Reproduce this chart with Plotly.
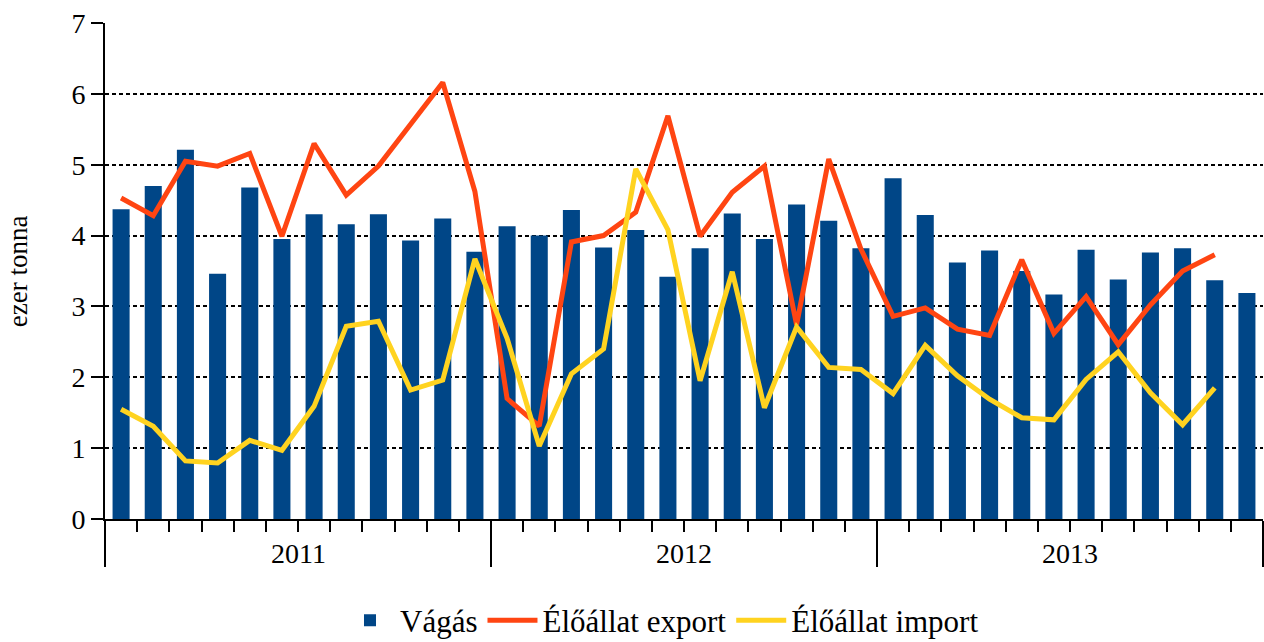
import plotly.graph_objects as go

years = ["2011", "2012", "2013"]
months_per_year = 12

vagas = [4.37, 4.70, 5.21, 3.46, 4.68, 3.95, 4.30, 4.16, 4.30, 3.93, 4.24, 3.77,
         4.13, 4.00, 4.36, 3.83, 4.08, 3.42, 3.82, 4.31, 3.95, 4.44, 4.21, 3.82,
         4.81, 4.29, 3.62, 3.79, 3.50, 3.17, 3.80, 3.38, 3.76, 3.82, 3.37, 3.19]

export = [4.53, 4.28, 5.05, 4.98, 5.16, 3.99, 5.30, 4.57, 4.98, 5.58, 6.16, 4.62,
          1.70, 1.31, 3.91, 4.00, 4.33, 5.69, 3.99, 4.61, 4.98, 2.74, 5.08, 3.81,
          2.86, 2.98, 2.68, 2.59, 3.66, 2.62, 3.14, 2.46, 3.02, 3.50, 3.73]

importv = [1.55, 1.31, 0.82, 0.79, 1.11, 0.97, 1.59, 2.72, 2.79, 1.82, 1.96, 3.67,
           2.55, 1.03, 2.05, 2.40, 4.94, 4.08, 1.95, 3.49, 1.57, 2.71, 2.14, 2.11,
           1.77, 2.45, 2.02, 1.69, 1.43, 1.40, 1.97, 2.36, 1.78, 1.33, 1.85]

names = ["Vágás", "Élőállat export", "Élőállat import"]
colors = ["#004687", "#FF4512", "#FFD320"]
y_title = "ezer tonna"

n = len(years) * months_per_year
idx = list(range(n))
FONT = "Liberation Serif, Times New Roman, serif"
FS = 28

fig = go.Figure()
fig.add_trace(go.Bar(x=idx, y=vagas, name=names[0], marker=dict(color=colors[0], line=dict(width=0))))
fig.add_trace(go.Scatter(x=idx[:len(export)], y=export, mode="lines", name=names[1],
                         line=dict(color=colors[1], width=5)))
fig.add_trace(go.Scatter(x=idx[:len(importv)], y=importv, mode="lines", name=names[2],
                         line=dict(color=colors[2], width=5)))

year_bounds = [i * months_per_year - 0.5 for i in range(len(years) + 1)]
year_mids = [i * months_per_year + (months_per_year - 1) / 2 for i in range(len(years))]

annotations = [dict(x=m, y=-0.07, xref="x", yref="paper", text=yr, showarrow=False,
                    xanchor="center", yanchor="middle", font=dict(family=FONT, size=FS))
               for m, yr in zip(year_mids, years)]
annotations.append(dict(x=-0.075, y=0.5, xref="paper", yref="paper", text=y_title,
                        textangle=-90, showarrow=False, xanchor="center", yanchor="middle",
                        font=dict(family=FONT, size=FS - 1)))

fig.update_layout(
    width=1264, height=642,
    margin=dict(l=105, r=1, t=23, b=123, autoexpand=False),
    paper_bgcolor="white", plot_bgcolor="white",
    font=dict(family=FONT, size=FS, color="black"),
    bargap=0.47,
    showlegend=True,
    legend=dict(orientation="h", x=0.481, xanchor="center", y=-0.205, yanchor="middle",
                font=dict(family=FONT, size=31), itemwidth=50, tracegroupgap=0),
    xaxis=dict(range=[-0.5, n - 0.5], showgrid=False, zeroline=False, automargin=False,
               showline=True, linecolor="black", linewidth=2,
               tickmode="array", tickvals=year_bounds, ticks="outside", ticklen=46,
               tickwidth=2, tickcolor="black", showticklabels=False,
               minor=dict(ticks="outside", ticklen=11, tickwidth=2, tickcolor="black",
                          tickmode="linear", tick0=0.5, dtick=1, showgrid=False)),
    yaxis=dict(range=[0, 7], dtick=1, tick0=0, showgrid=True, gridcolor="black",
               gridwidth=2, griddash="4px,3px", zeroline=False, automargin=False,
               showline=True, linecolor="black", linewidth=2,
               ticks="outside", ticklen=12, tickwidth=2, tickcolor="black",
               tickfont=dict(family=FONT, size=FS)),
    annotations=annotations,
)

fig.write_html("out.html", config={"displayModeBar": False},
               post_script="document.body.style.margin='0';")
